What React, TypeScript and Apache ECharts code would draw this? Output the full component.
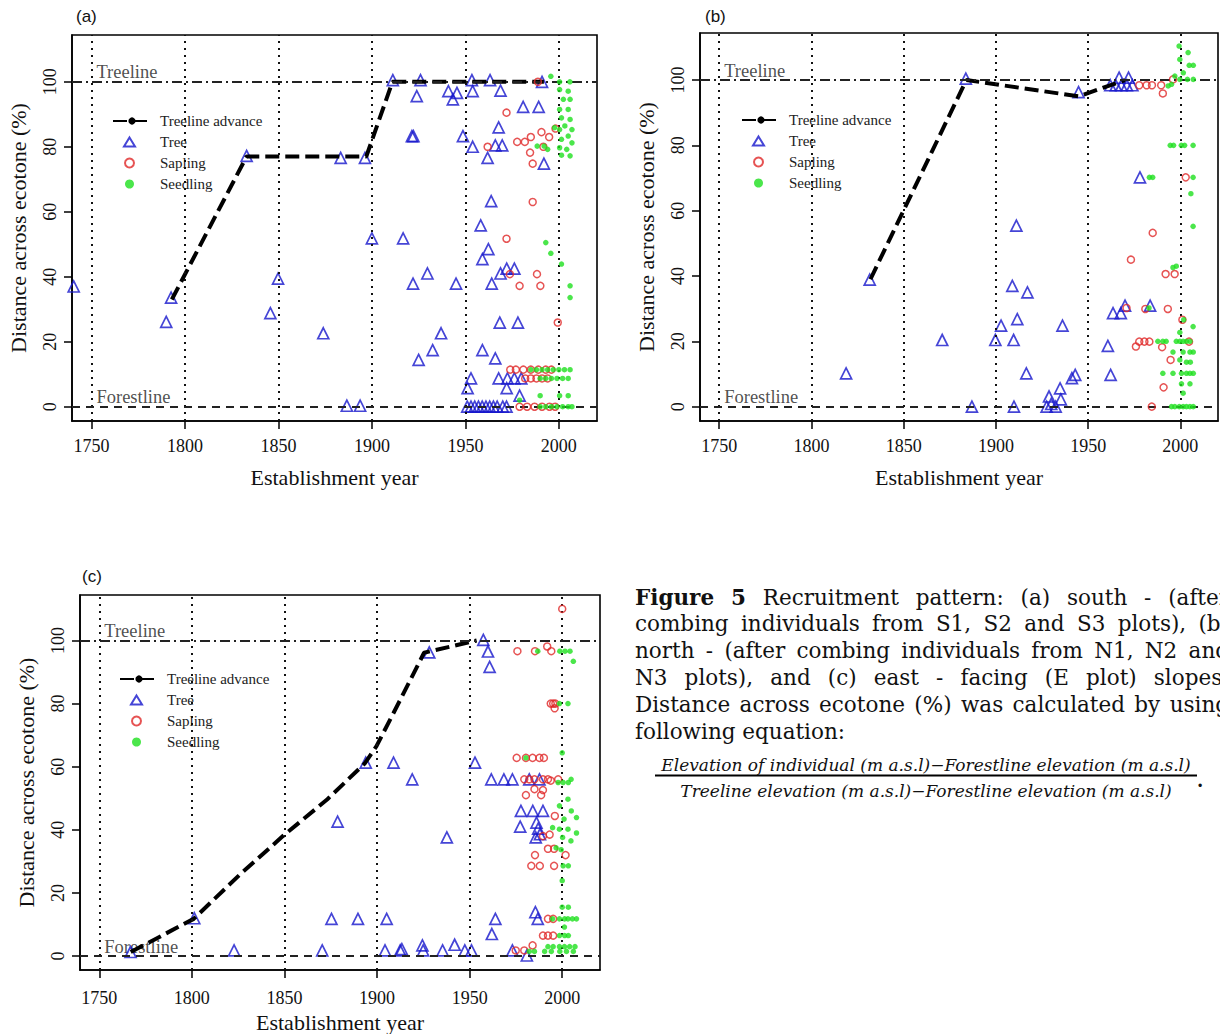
import React, { useEffect, useRef } from 'react';
import * as echarts from 'echarts';

const yearTicks = [1750, 1800, 1850, 1900, 1950, 2000];
const pctTicks = [0, 20, 40, 60, 80, 100];
const lineLegendNames = ['Treeline advance'];
const pointLegendNames = ['Tree', 'Sapling', 'Seedling'];
const refLabels = ['Treeline', 'Forestline'];

// ---------- Panel (a) south ----------
const advanceA = [[1793, 33], [1833, 77], [1897, 77], [1911, 100], [1992, 100]];
const treeA = [[1740.5, 37], [1792.6, 33.6], [1790, 26.1], [1833, 77.2], [1849.8, 39.4], [1845.7, 28.8], [1874, 22.6], [1883.3, 76.6], [1896.3, 76.6], [1886.6, 0.3], [1893.7, 0.3], [1900, 51.8], [1916.7, 51.8], [1911.2, 100.5], [1926, 100.5], [1924, 95.6], [1921.4, 83.3], [1922.2, 83.3], [1922, 37.9], [1929.7, 41], [1925, 14.4], [1932.5, 17.4], [1937, 22.6], [1940.9, 97.1], [1945.5, 96.6], [1943.3, 94.6], [1945, 37.9], [1948.7, 83.3], [1953.5, 100.5], [1953.9, 97.1], [1953.9, 80], [1963.2, 100.5], [1968.8, 97.3], [1961.9, 76.6], [1967.8, 86], [1966, 80.4], [1969.7, 80.4], [1980.9, 92.3], [1989.2, 92.3], [1992, 74.8], [1963.8, 63.3], [1958.2, 55.8], [1962.3, 48.5], [1959.1, 45.4], [1972.1, 42.5], [1976.2, 42.5], [1968.8, 41], [1964.1, 37.9], [1968.4, 25.9], [1978.1, 25.9], [1959.1, 17.4], [1966, 14.9], [1953, 8.7], [1951.2, 5.7], [1967.8, 8.7], [1972.5, 8.7], [1976.2, 8.7], [1979.9, 8.7], [1972.1, 5.7], [1979, 3.4], [1951, 0], [1953, 0], [1955, 0], [1957, 0], [1959, 0], [1961, 0], [1963, 0], [1965, 0], [1967, 0], [1970, 0], [1972, 0], [1991, 100]];
const saplingA = [[1988.8, 100], [1972, 90.5], [1961.9, 80], [1977.7, 81.5], [1981.8, 81.5], [1985, 83], [1990.7, 84.5], [1994.8, 83], [1998.2, 85.6], [1984.6, 78.2], [1986, 74.8], [1991.7, 80], [1986, 63], [1972, 51.7], [1973.8, 40.8], [1979, 37.2], [1988.3, 40.8], [1990.1, 37.2], [1999.4, 25.9], [1974, 11.4], [1977, 11.4], [1981, 11.4], [1985, 11.4], [1989, 11.4], [1993, 11.4], [1996, 11.4], [1982, 8.7], [1985, 8.7], [1988, 8.7], [1991, 8.7], [1994, 8.7], [1979, 0], [1983, 0], [1987, 0], [1991, 0], [1995, 0], [1998, 0]];
const seedlingA = [[1995.7, 101.7], [2000.4, 100], [2005.9, 100], [2000.4, 97.6], [2005, 97.1], [2002.4, 94.6], [2006, 94.6], [2000.4, 91.5], [2005, 91.5], [2001.4, 88.9], [2006, 88.4], [2003.2, 86.4], [2007, 85.3], [2000.4, 85.3], [2005, 83.3], [2001.4, 82.3], [2007, 81.2], [2000.4, 79.7], [2004.2, 79.2], [2006, 77.2], [2001.4, 77.4], [1992.1, 80.2], [1988.4, 80.2], [1994, 79.2], [1997.7, 85.9], [1993, 50.5], [1995.7, 47.2], [2001.4, 43.9], [2006, 37.2], [2006, 33.6], [1985, 11.4], [1988, 11.4], [1991, 11.4], [1994, 11.4], [1997, 11.4], [2000, 11.4], [2003, 11.4], [2006, 11.4], [1990, 8.7], [1993, 8.7], [1996, 8.7], [1999, 8.7], [2002, 8.7], [2005, 8.7], [1990, 3.4], [2000.4, 3.4], [2005, 3.4], [1979, 2], [1990, 0], [1993, 0], [1996, 0], [1999, 0], [2002, 0], [2005, 0], [2007, 0]];

// ---------- Panel (b) north ----------
const advanceB = [[1832, 39], [1884, 100], [1945, 95], [1970, 100]];
const treeB = [[1831.6, 38.9], [1818.8, 10.2], [1870.9, 20.4], [1883.7, 100.4], [1887, 0], [1899.7, 20.4], [1902.8, 24.8], [1908.9, 37], [1911.1, 55.4], [1911.6, 26.8], [1909.6, 20.4], [1917.1, 35], [1916.5, 10.2], [1909.8, 0], [1928.8, 3.1], [1934.8, 5.6], [1935.2, 2.2], [1927.5, 0], [1932.4, 0], [1930, 0.8], [1936.1, 24.8], [1941.2, 8.7], [1943, 9.7], [1944.8, 96.3], [1960.7, 18.6], [1962.2, 9.7], [1963.5, 28.6], [1967.7, 28.6], [1970, 30.9], [1983.6, 30.9], [1978.1, 70.2], [1962, 98.4], [1965, 98.4], [1968, 98.4], [1971, 98.4], [1974, 98.4], [1966.8, 100.7], [1971.9, 100.7]];
const saplingB = [[1977.7, 98.4], [1981.7, 98.4], [1984.6, 98.4], [1989.6, 98.4], [1990.5, 95.9], [1996, 100.2], [2002.9, 70.2], [1985, 53.2], [1973.2, 45], [1992, 40.6], [1996.9, 40.6], [1970.8, 30.2], [1981, 29.9], [1993.2, 29.9], [2001.1, 26.6], [1975.9, 18.4], [1977.7, 19.9], [1980.5, 19.9], [1983.2, 19.9], [1990.1, 18.2], [2004.7, 19.9], [1994.7, 14.3], [1990.9, 5.9], [1984.5, 0]];
const seedlingB = [[1999.3, 110.4], [2004.2, 108.4], [1999.7, 106.3], [2004.8, 104.5], [2007, 104.5], [2001.6, 102.2], [1997, 101.2], [2003.8, 100.2], [2007, 100.2], [1995.2, 98.7], [1999.7, 100.2], [1993.4, 98.2], [1994.5, 80], [1996.3, 80], [2000.5, 80], [2002.3, 80], [2006.9, 80], [1983.2, 70.2], [1985, 70.2], [2006.9, 70.2], [2005.7, 65.2], [2006.9, 55.2], [1996, 42.6], [1997.8, 43], [1983, 30.2], [2001.8, 26.6], [2006.9, 24.5], [1999.7, 22.7], [1987.8, 20], [1990.5, 20], [1992.3, 20], [1997.8, 20], [1999.7, 20], [2001.5, 20], [2003.3, 20], [2005.2, 20], [1996, 16.7], [2001.5, 16.7], [2005.2, 16.7], [2007, 16.7], [1999.7, 14.3], [2003.3, 13.6], [2005.4, 13.6], [1990.5, 10.2], [1996, 10.2], [2000.6, 10.2], [2003.3, 10.2], [2005.2, 10.2], [2007, 10.2], [2000.6, 7], [2005.2, 7], [2001.5, 4.1], [1995.2, 0], [1997, 0], [1999.4, 0], [2001.5, 0], [2003.3, 0], [2005.2, 0], [2007, 0]];

// ---------- Panel (c) east ----------
const advanceC = [[1767, 1.3], [1801, 11.8], [1825.5, 25.6], [1849.3, 38.1], [1873.2, 49.7], [1893.3, 61], [1899.7, 66.5], [1913.5, 82.3], [1925.4, 96.1], [1953.8, 100]];
const treeC = [[1766.9, 1.3], [1801.3, 12], [1822.8, 1.8], [1870.4, 1.8], [1875.4, 11.8], [1878.7, 42.6], [1889.7, 11.8], [1893.9, 61.3], [1905.2, 11.8], [1908.9, 61.3], [1919, 56], [1904.3, 1.8], [1912.5, 1.8], [1913.4, 2.2], [1924.5, 3.4], [1924.9, 1.8], [1928.2, 96.2], [1935.4, 1.8], [1937.7, 37.6], [1941.9, 3.6], [1947.4, 1.8], [1951, 1.8], [1952.9, 61.3], [1957.4, 100.2], [1959.9, 96.5], [1960.8, 91.6], [1961.7, 56], [1968.5, 56], [1973.1, 56], [1977.7, 46], [1984.1, 46], [1989.6, 46], [1977.3, 41], [1986.1, 42.3], [1987, 40.4], [1985.7, 37.6], [1988, 38.6], [1982.2, 56], [1987.7, 56], [1963.9, 11.8], [1962, 7], [1985.5, 13.9], [1986.8, 11.8], [1973.1, 1.8], [1980.9, 0.2]];
const saplingC = [[2000, 110], [1975.8, 96.6], [1985.3, 96.6], [1994.1, 96.6], [1991.9, 98.1], [1993.8, 80], [1995.1, 80], [1996.3, 80], [1995.9, 78.5], [1975.4, 62.8], [1980.4, 62.8], [1984, 62.8], [1987.7, 62.8], [1990.1, 62.8], [1979.5, 56], [1982.2, 56], [1985, 56], [1989.6, 56], [1992.3, 56], [1997.8, 56], [1985, 52.9], [1989.6, 52.6], [1993.8, 55.6], [1980.4, 51], [1988.6, 51], [1996, 44.4], [1989.6, 38], [1993.2, 38.5], [1992.3, 34], [1995.6, 34], [1985.3, 32], [2001.8, 32], [1983.3, 28.6], [1987.9, 28.6], [1995.6, 28.6], [1992.3, 11.8], [1995.1, 11.8], [1989.6, 6.5], [1992.3, 6.5], [1995.1, 6.5], [1984, 3.4], [1974.9, 1.8], [1979.5, 1.8]];
const seedlingC = [[1986.8, 96.6], [1998.7, 96.6], [2001.5, 96.6], [2004.2, 96.6], [2006, 93.4], [1998.5, 80], [2003.1, 80], [2000, 64.4], [1980.4, 62.8], [1997.8, 55], [2000.5, 55], [2003.3, 55], [2004.8, 56], [2003.1, 49.7], [1998.5, 47.6], [2004.9, 46], [2007.7, 43.9], [2001, 43.4], [1994.8, 40.7], [1998.5, 40.2], [2003.1, 40.2], [2007.7, 39], [2000.2, 37.6], [2004.7, 36.5], [1996.7, 34.3], [1999.4, 33.7], [2000.5, 28.6], [2003.3, 28.6], [2000, 23.9], [2000, 15.5], [2003.3, 15.5], [1994.8, 11.8], [1998.5, 11.8], [2001.3, 11.8], [2003.1, 11.8], [2005.5, 11.8], [2007.7, 11.8], [2001.2, 9.2], [1998.5, 6.5], [2001.3, 6.5], [2003.3, 6.5], [1992.3, 3], [1995.1, 3], [1998.5, 3], [2001.2, 3], [2004, 3], [2006.9, 3], [1982.2, 1.5], [1985, 1.5], [1990.5, 1.5], [1994.1, 1.5], [1998.7, 1.5], [2002.3, 1.5], [2006, 1.5]];

// ---------- Caption ----------
const captionLines = [
  ['Figure', '5', 'Recruitment', 'pattern:', '(a)', 'south', '-', '(after'],
  ['combing', 'individuals', 'from', 'S1,', 'S2', 'and', 'S3', 'plots),', '(b)'],
  ['north', '-', '(after', 'combing', 'individuals', 'from', 'N1,', 'N2', 'and'],
  ['N3', 'plots),', 'and', '(c)', 'east', '-', 'facing', '(E', 'plot)', 'slopes.'],
  ['Distance', 'across', 'ecotone', '(%)', 'was', 'calculated', 'by', 'using'],
  ['following', 'equation:'],
];
const boldWordCount = 2;
const eqNumerator = 'Elevation of individual (m a.s.l)\u2212Forestline elevation (m a.s.l)';
const eqDenominator = 'Treeline elevation (m a.s.l)\u2212Forestline elevation (m a.s.l)';

const SERIF = '"Liberation Serif", "Times New Roman", serif';
const CAP_FONT = '"DejaVu Serif", serif';

const panels = [
  { title: '(a)', grid: { left: 72, top: 35, width: 525, height: 386 }, x: [1739.6, 2020.4], y: [-4.4, 114.4], advance: advanceA, tree: treeA, sapling: saplingA, seedling: seedlingA, legend: { left: 112, top: 113 }, titlePos: [76, 8], labelMargin: 16, nameGap: 45 },
  { title: '(b)', grid: { left: 700, top: 33, width: 518, height: 388 }, x: [1739.6, 2020.4], y: [-4.4, 114.4], advance: advanceB, tree: treeB, sapling: saplingB, seedling: seedlingB, legend: { left: 741, top: 112 }, titlePos: [705, 8], labelMargin: 16, nameGap: 45 },
  { title: '(c)', grid: { left: 80, top: 595, width: 520, height: 376 }, x: [1739.6, 2020.4], y: [-4.4, 114.4], advance: advanceC, tree: treeC, sapling: saplingC, seedling: seedlingC, legend: { left: 119, top: 671 }, titlePos: [82, 568], labelMargin: 19, nameGap: 41 },
];

function measure(ctx: CanvasRenderingContext2D, text: string, font: string) {
  ctx.font = font;
  return ctx.measureText(text).width;
}

function buildCaption() {
  const ctx = document.createElement('canvas').getContext('2d') as CanvasRenderingContext2D;
  const size = 21.5;
  const x0 = 635;
  const x1 = 1229;
  const y0 = 597;
  const lh = 26.8;
  const out: any[] = [];
  captionLines.forEach((words, li) => {
    const fonts = words.map((_, wi) => (li === 0 && wi < boldWordCount ? 'bold ' : '') + size + 'px ' + CAP_FONT);
    const widths = words.map((w, wi) => measure(ctx, w, fonts[wi]));
    const sum = widths.reduce((a, b) => a + b, 0);
    const normal = measure(ctx, ' ', size + 'px ' + CAP_FONT);
    const last = li === captionLines.length - 1;
    let gap = normal;
    if (!last && words.length > 1) gap = Math.max(normal * 0.9, (x1 - x0 - sum) / (words.length - 1));
    let x = x0;
    words.forEach((w, wi) => {
      out.push({
        type: 'text',
        x,
        y: y0 + li * lh,
        style: { text: w, font: fonts[wi], fill: '#111', verticalAlign: 'middle', align: 'left' },
      });
      x += widths[wi] + gap;
    });
  });
  const eqFont = 'italic 17px ' + CAP_FONT;
  out.push({ type: 'text', x: 926, y: 765, style: { text: eqNumerator, font: eqFont, fill: '#111', align: 'center', verticalAlign: 'middle' } });
  out.push({ type: 'line', shape: { x1: 655, y1: 775.5, x2: 1197, y2: 775.5 }, style: { stroke: '#000', lineWidth: 2 } });
  out.push({ type: 'text', x: 926, y: 791, style: { text: eqDenominator, font: eqFont, fill: '#111', align: 'center', verticalAlign: 'middle' } });
  out.push({ type: 'text', x: 1197, y: 780, style: { text: '.', font: 'bold 18px ' + CAP_FONT, fill: '#111', align: 'left', verticalAlign: 'middle' } });
  return out;
}

function buildOption() {
  const series: any[] = [];
  panels.forEach((p, i) => {
    series.push({
      name: '_ref' + i,
      type: 'scatter',
      xAxisIndex: i,
      yAxisIndex: i,
      symbolSize: 0,
      silent: true,
      z: 1,
      data: [[yearTicks[0], 100, refLabels[0]], [yearTicks[0], 0, refLabels[1]]],
      label: {
        show: true,
        position: 'right',
        distance: 5,
        verticalAlign: 'bottom',
        formatter: (d: any) => d.data[2],
        fontFamily: SERIF,
        fontSize: 18.5,
        color: '#222',
      },
      markLine: {
        silent: true,
        symbol: ['none', 'none'],
        label: { show: false },
        emphasis: { disabled: true },
        data: [
          ...yearTicks.map((v) => ({ xAxis: v, lineStyle: { color: '#111', width: 2, type: [2, 5] } })),
          { yAxis: 100, lineStyle: { color: '#222', width: 1.8, type: [10, 4, 2, 4] } },
          { yAxis: 0, lineStyle: { color: '#222', width: 1.8, type: [8, 6] } },
        ],
      },
    });
    series.push({
      name: 'Tree',
      type: 'scatter',
      xAxisIndex: i,
      yAxisIndex: i,
      symbol: 'triangle',
      symbolSize: 11,
      symbolKeepAspect: true,
      z: 3,
      itemStyle: { color: 'rgba(0,0,0,0)', borderColor: '#1717cc', borderWidth: 1.7 },
      data: p.tree,
    });
    series.push({
      name: 'Treeline advance',
      type: 'line',
      xAxisIndex: i,
      yAxisIndex: i,
      symbol: 'none',
      z: 4,
      lineStyle: { color: '#000', width: 4, type: [14, 6] },
      itemStyle: { color: '#000' },
      data: p.advance,
    });
    series.push({
      name: 'Sapling',
      type: 'scatter',
      xAxisIndex: i,
      yAxisIndex: i,
      symbol: 'circle',
      symbolSize: 7,
      z: 5,
      itemStyle: { color: 'rgba(0,0,0,0)', borderColor: '#e02828', borderWidth: 1.5 },
      data: p.sapling,
    });
    series.push({
      name: 'Seedling',
      type: 'scatter',
      xAxisIndex: i,
      yAxisIndex: i,
      symbol: 'circle',
      symbolSize: 5.5,
      z: 6,
      itemStyle: { color: '#1ee01e' },
      data: p.seedling,
    });
  });

  const legendText = { fontFamily: SERIF, fontSize: 15, color: '#222', lineHeight: 16 };
  const legends: any[] = [];
  panels.forEach((p) => {
    legends.push({
      left: p.legend.left,
      top: p.legend.top,
      orient: 'vertical',
      data: lineLegendNames,
      itemWidth: 38,
      itemHeight: 9,
      selectedMode: false,
      padding: 0,
      textStyle: { ...legendText, padding: [0, 0, 0, 4] },
    });
    legends.push({
      left: p.legend.left + 11,
      top: p.legend.top + 21,
      orient: 'vertical',
      data: pointLegendNames,
      itemWidth: 11,
      itemHeight: 9,
      itemGap: 5,
      selectedMode: false,
      padding: 0,
      textStyle: { ...legendText, padding: [0, 0, 0, 20] },
    });
  });

  return {
    animation: false,
    backgroundColor: '#fff',
    grid: panels.map((p) => ({ ...p.grid, show: true, borderColor: '#000', borderWidth: 1.6, containLabel: false })),
    xAxis: panels.map((p, i) => ({
      type: 'value',
      gridIndex: i,
      min: p.x[0],
      max: p.x[1],
      axisLine: { show: true, onZero: false, lineStyle: { color: '#000', width: 1.6 } },
      axisTick: { show: true, customValues: yearTicks, length: 8, lineStyle: { color: '#000', width: 1.5 } },
      axisLabel: { customValues: yearTicks, formatter: (v: number) => String(v), fontFamily: SERIF, fontSize: 18, color: '#111', margin: p.labelMargin },
      splitLine: { show: false },
      name: 'Establishment year',
      nameLocation: 'middle',
      nameGap: p.nameGap,
      nameTextStyle: { fontFamily: SERIF, fontSize: 22, color: '#111' },
    })),
    yAxis: panels.map((p, i) => ({
      type: 'value',
      gridIndex: i,
      min: p.y[0],
      max: p.y[1],
      axisLine: { show: true, onZero: false, lineStyle: { color: '#000', width: 1.6 } },
      axisTick: { show: true, customValues: pctTicks, length: 8, lineStyle: { color: '#000', width: 1.5 } },
      axisLabel: { customValues: pctTicks, formatter: (v: number) => String(v), fontFamily: SERIF, fontSize: 18, color: '#111', margin: 13, rotate: 90 },
      splitLine: { show: false },
      name: 'Distance across ecotone (%)',
      nameLocation: 'middle',
      nameGap: 43,
      nameTextStyle: { fontFamily: SERIF, fontSize: 22, color: '#111' },
    })),
    legend: legends,
    graphic: [
      ...panels.map((p) => ({
        type: 'text',
        x: p.titlePos[0],
        y: p.titlePos[1],
        style: { text: p.title, font: '17px "Liberation Sans", Arial, sans-serif', fill: '#111' },
      })),
      ...buildCaption(),
    ],
    series,
  };
}

export default function App() {
  const ref = useRef<HTMLDivElement>(null);
  useEffect(() => {
    if (!ref.current) return;
    const chart = echarts.init(ref.current, undefined, { renderer: 'svg' });
    chart.setOption(buildOption() as any);
    return () => chart.dispose();
  }, []);
  return (
    <div
      ref={ref}
      style={{ position: 'absolute', left: 0, top: 0, width: 1220, height: 1034, background: '#fff' }}
    />
  );
}
